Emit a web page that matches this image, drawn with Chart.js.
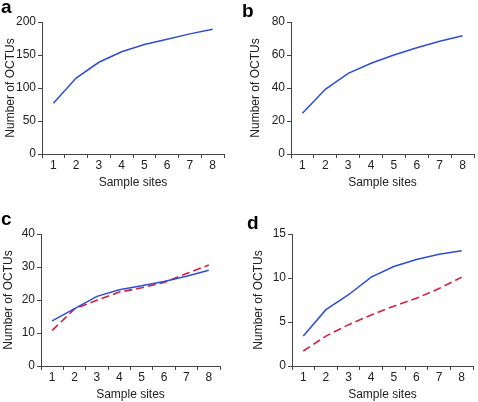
<!DOCTYPE html>
<html>
<head>
<meta charset="utf-8">
<script src="https://cdn.jsdelivr.net/npm/chart.js@4/dist/chart.umd.min.js"></script>
<style>
  body { margin: 0; background: #fff; }
  #wrap { position: relative; width: 478px; height: 402px; overflow: hidden; }
  canvas { position: absolute; }
  .tag { position: absolute; font: bold 19px "Liberation Sans", Arial, sans-serif; line-height: 19px; color: #000; }
</style>
</head>
<body>
<div id="wrap">
  <canvas id="chartA" width="240" height="200" style="left:0;top:0"></canvas>
  <canvas id="chartB" width="238" height="200" style="left:240px;top:0"></canvas>
  <canvas id="chartC" width="240" height="202" style="left:0;top:200px"></canvas>
  <canvas id="chartD" width="238" height="202" style="left:240px;top:200px"></canvas>
  <div class="tag" style="left:1px;top:-3px">a</div>
  <div class="tag" style="left:242px;top:1px">b</div>
  <div class="tag" style="left:1px;top:209px">c</div>
  <div class="tag" style="left:247px;top:213px">d</div>
</div>
<script>
const sites = ['1', '2', '3', '4', '5', '6', '7', '8'];

// panel a
const octusA = [77, 115, 139, 155, 166, 174, 182, 189];
// panel b
const octusB = [24.7, 39.2, 48.9, 55, 60, 64.4, 68.3, 71.7];
// panel c (solid / dashed)
const octusC1 = [13.7, 17.4, 21.1, 23.1, 24.3, 25.6, 27.2, 29];
const octusC2 = [10.8, 17.3, 19.9, 22.4, 23.7, 25.3, 28, 30.6];
// panel d (solid / dashed)
const octusD1 = [3.4, 6.4, 8.1, 10.1, 11.3, 12.1, 12.7, 13.1];
const octusD2 = [1.7, 3.4, 4.7, 5.8, 6.8, 7.7, 8.8, 10.1];

const yMaxA = 200, yStepA = 50;
const yMaxB = 80, yStepB = 20;
const yMaxC = 40, yStepC = 10;
const yMaxD = 15, yStepD = 5;

const BLUE = '#2d4ed2';
const RED = '#d4203c';
const AXIS = '#444';
const FONT = { family: '"Liberation Sans", Arial, sans-serif', size: 12 };

function solid(data) {
  return { data, borderColor: BLUE, borderWidth: 1.5, pointRadius: 0, tension: 0, fill: false };
}
function dashed(data) {
  return { data, borderColor: RED, borderWidth: 1.6, borderDash: [8, 4], pointRadius: 0, tension: 0, fill: false };
}

function makePanel(id, datasets, yMax, yStep, pad, yWidth, xHeight) {
  return new Chart(document.getElementById(id), {
    type: 'line',
    data: { labels: sites, datasets },
    options: {
      responsive: false,
      animation: false,
      layout: { padding: pad },
      plugins: { legend: { display: false }, tooltip: { enabled: false } },
      scales: {
        x: {
          type: 'category',
          offset: true,
          grid: { display: true, drawOnChartArea: false, drawTicks: true, tickLength: 4, tickColor: AXIS, offset: true },
          border: { color: AXIS, width: 1 },
          ticks: { color: '#222', font: FONT, padding: 0, maxRotation: 0 },
          title: { display: true, text: 'Sample sites', color: '#222', font: FONT, padding: 0 },
          afterFit: (s) => { s.height = xHeight; },
        },
        y: {
          min: 0,
          max: yMax,
          grid: { display: true, drawOnChartArea: false, drawTicks: true, tickLength: 4, tickColor: AXIS },
          border: { color: AXIS, width: 1 },
          ticks: { stepSize: yStep, color: '#222', font: FONT, padding: 2 },
          title: { display: true, text: 'Number of OCTUs', color: '#222', font: FONT, padding: 0 },
          afterFit: (s) => { s.width = yWidth; },
        },
      },
    },
  });
}

makePanel('chartA', [solid(octusA)], yMaxA, yStepA, { left: 3, right: 16, top: 22, bottom: 10 }, 39, 36);
makePanel('chartB', [solid(octusB)], yMaxB, yStepB, { left: 8, right: 4, top: 22, bottom: 10 }, 43, 36);
makePanel('chartC', [solid(octusC1), dashed(octusC2)], yMaxC, yStepC, { left: 1, right: 20, top: 34, bottom: 0 }, 40, 36);
makePanel('chartD', [solid(octusD1), dashed(octusD2)], yMaxD, yStepD, { left: 11, right: 5, top: 34, bottom: 0 }, 41, 36);
</script>
</body>
</html>
